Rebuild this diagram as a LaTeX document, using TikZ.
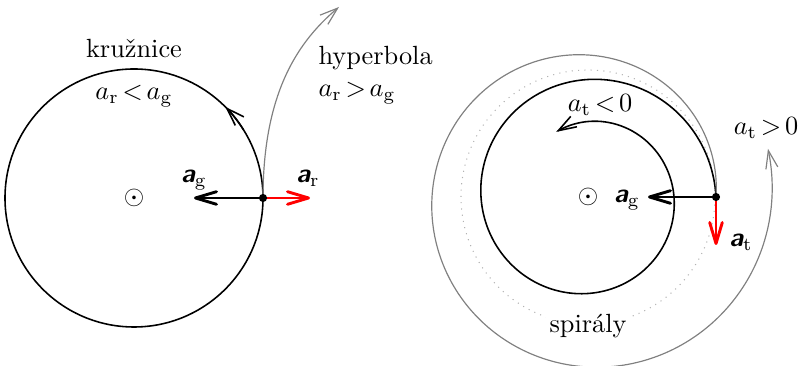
\documentclass[tikz,border=0pt]{standalone}
\usetikzlibrary{arrows.meta,calc}
\newcommand{\bvec}[1]{\mbox{\sffamily\bfseries\itshape #1}}
\begin{document}
\begin{tikzpicture}[x=0.38pt,y=0.38pt,
  orbit/.style={line width=0.6pt},
  gorbit/.style={line width=0.45pt, gray},
  vec/.style={line width=1.1pt, -{Straight Barb[length=8pt,width=4.8pt,round]}},
  thinarr/.style={-{Straight Barb[length=6.8pt,width=4.6pt]}},
  lbl/.style={inner sep=0pt, anchor=base, execute at begin node={\thickmuskip=2.5mu}},
  dotst/.style={circle, fill, inner sep=0pt, minimum size=3.1pt}]
\useasboundingbox (0,0) rectangle (798,366);

% ---------- left: circle and hyperbola ----------
\coordinate (L) at (134,168);
\node (Lsun) at (L) {$\odot$};
\draw[orbit] (L) circle[radius=129];
\draw[orbit, thinarr] ($(L)+(32:129)$) arc[start angle=32, end angle=45, radius=129];
\coordinate (P1) at (263,168);
\coordinate (Ag1) at (194,168);
\coordinate (Ar1) at (310,168);
\coordinate (H) at (339,359);
\draw[gorbit, thinarr] (P1) .. controls (263,276) and (300,326) .. (H);
\draw[vec] (P1) -- (Ag1);
\draw[vec, red] (P1) -- (Ar1);
\node[dotst] (D1) at (P1) {};
\node[lbl] (lag1) at (194,183) {$\bvec{a}_{\mathrm{g}}$};
\node[lbl] (lar1) at (308,183) {$\bvec{a}_{\mathrm{r}}$};
\node[lbl] (kr) at (134,308) {kružnice};
\node[lbl] (kra) at (134,266) {$a_{\mathrm{r}}<a_{\mathrm{g}}$};
\node[lbl, anchor=base west] (hyp) at (318,301) {hyperbola};
\node[lbl, anchor=base west] (hypa) at (318,269) {$a_{\mathrm{r}}>a_{\mathrm{g}}$};

% ---------- right: spirals ----------
\coordinate (C) at (588,169);
\node (Csun) at (C) {$\odot$};
\draw[dotted, gray!60, line width=0.4pt] (C) circle[radius=127];
\draw[orbit, thinarr, shift={(C)}] plot[domain=0:476, samples=160, smooth, variable=\t]
  ({(128-0.116667*\t)*cos(\t)}, {(128-0.116667*\t)*sin(\t)});
\draw[gorbit, thinarr, shift={(C)}] plot[domain=0:375, samples=130, smooth, variable=\t]
  ({(128+0.155556*\t)*cos(\t)}, {(128+0.155556*\t)*sin(\t)});
\coordinate (P2) at (716,169);
\coordinate (Ag2) at (648,169);
\coordinate (At2) at (716,121);
\draw[vec] (P2) -- (Ag2);
\draw[vec, red] (P2) -- (At2);
\node[dotst] (D2) at (P2) {};
\node[lbl] (lag2) at (627,163) {$\bvec{a}_{\mathrm{g}}$};
\node[lbl] (lat2) at (741,119) {$\bvec{a}_{\mathrm{t}}$};
\node[lbl] (atm) at (600,254) {$a_{\mathrm{t}}<0$};
\node[lbl] (atp) at (766,231) {$a_{\mathrm{t}}>0$};
\node[lbl, fill=white, inner sep=1.5pt] (spi) at (588,33) {spirály};
\end{tikzpicture}
\end{document}
